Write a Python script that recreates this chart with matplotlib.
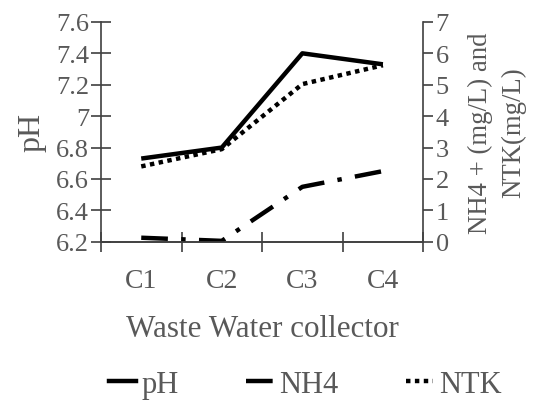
import matplotlib
matplotlib.use("Agg")
import matplotlib.pyplot as plt
from matplotlib.lines import Line2D

categories = ["C1", "C2", "C3", "C4"]
ph = [6.73, 6.80, 7.40, 7.33]
nh4 = [0.13, 0.03, 1.75, 2.25]
ntk = [2.40, 2.95, 5.02, 5.62]
ph_ticks = [6.2, 6.4, 6.6, 6.8, 7.0, 7.2, 7.4, 7.6]
ph_ticklabels = ["6.2", "6.4", "6.6", "6.8", "7", "7.2", "7.4", "7.6"]
right_ticks = [0, 1, 2, 3, 4, 5, 6, 7]

plt.rcParams['font.family'] = ['Liberation Serif', 'DejaVu Serif']
TXT = '#595959'
AX = '#404040'

fig = plt.figure(figsize=(5.37, 4.02), dpi=100)
ax = fig.add_axes([0.188, 0.396, 0.600, 0.547])
ax2 = ax.twinx()

x = list(range(len(categories)))
l1, = ax.plot(x, ph, color='black', lw=3.2, solid_capstyle='butt')
l2, = ax2.plot(x, nh4, color='black', lw=3.2, dashes=(6, 3, 1, 3), dash_capstyle='butt')
l3, = ax2.plot(x, ntk, color='black', lw=3.2, dashes=(1, 1), dash_capstyle='butt')

ax.set_xlim(-0.5, 3.5)
ax.set_ylim(6.2, 7.6)
ax2.set_ylim(0, 7)
ax.set_yticks(ph_ticks)
ax.set_yticklabels(ph_ticklabels)
ax2.set_yticks(right_ticks)
ax.set_xticks(x)
ax.set_xticklabels(categories)
ax.set_xticks([-0.5, 0.5, 1.5, 2.5, 3.5], minor=True)
ax.tick_params(axis='x', which='major', length=0, pad=19, labelsize=20, labelcolor=TXT)
ax.tick_params(axis='x', which='minor', direction='inout', length=15, width=1.2, color=AX)
ax.tick_params(axis='y', direction='inout', length=15, width=1.2, color=AX, labelsize=19, labelcolor=TXT, pad=1)
ax2.tick_params(axis='y', direction='out', length=7, width=1.2, color=AX, labelsize=19, labelcolor=TXT, pad=2)

for a in (ax, ax2):
    a.spines['top'].set_visible(False)
    for s in ('left', 'right', 'bottom'):
        a.spines[s].set_color(AX)
        a.spines[s].set_linewidth(1.2)
ax.spines['right'].set_visible(False)
ax2.spines['left'].set_visible(False)

ax.set_ylabel('pH', fontsize=23, color=TXT, labelpad=7)
ax2.set_ylabel('NH4 + (mg/L) and\nNTK(mg/L)', fontsize=19.3, color=TXT, labelpad=14, linespacing=1.38)
ax.set_xlabel('Waste Water collector', fontsize=22.4, color=TXT, labelpad=15)

handles = [Line2D([], [], color='black', lw=3.2),
           Line2D([], [], color='black', lw=3.2, dashes=(6, 3, 1, 3)),
           Line2D([], [], color='black', lw=3.2, dashes=(1, 1))]
fig.legend(handles, ['pH', 'NH4', 'NTK'], loc='center', bbox_to_anchor=(0.568, 0.042),
           ncol=3, frameon=False, fontsize=22, labelcolor=TXT, handlelength=0.88,
           handletextpad=0.2, columnspacing=2.2)

fig.savefig('out.png', dpi=100)
